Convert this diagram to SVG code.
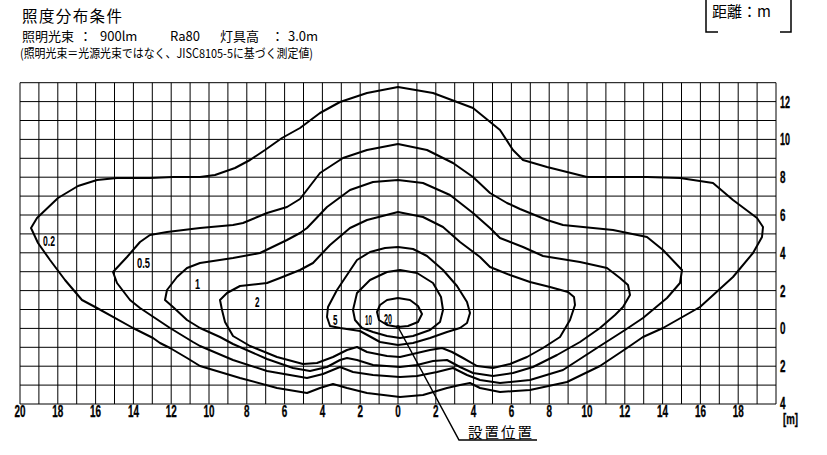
<svg xmlns="http://www.w3.org/2000/svg" width="827" height="455" viewBox="0 0 827 455">
<style>
.grid{stroke:#000;stroke-width:1;fill:none}
.contour{stroke:#000;stroke-width:2;fill:none;stroke-linejoin:round}
.ax{font-family:"Liberation Sans",Arial,sans-serif;font-weight:bold;font-size:17px;fill:#000;stroke:#000;stroke-width:0.35}
.axb{text-anchor:middle}
.cl{font-family:"Liberation Sans",Arial,sans-serif;font-weight:bold;font-size:15px;fill:#000}
.jp{font-family:"Noto Sans CJK JP","Noto Sans",sans-serif;fill:#000}
.ln{stroke:#000;stroke-width:1.5;fill:none}
</style>
<rect width="827" height="455" fill="#fff"/>
<g id="header">
<text class="jp" x="22" y="22" font-size="15.5" textLength="100" lengthAdjust="spacing">照度分布条件</text>
<text class="jp" font-size="13" y="40.5"><tspan x="22">照明光束</tspan><tspan x="79">：</tspan><tspan x="100">900lm</tspan><tspan x="170">Ra80</tspan><tspan x="220">灯具高</tspan><tspan x="271">：</tspan><tspan x="288">3.0m</tspan></text>
<text class="jp" x="20" y="58" font-size="12.5" textLength="293" lengthAdjust="spacingAndGlyphs">(照明光束＝光源光束ではなく、JISC8105-5に基づく測定値)</text>
</g>
<g id="unit-box">
<path class="ln" stroke-width="2" d="M706 0V32H718M791 0V32H780"/>
<text class="jp" x="712" y="17" font-size="15">距離：m</text>
</g>
<g id="grid">
<path class="grid" d="M20 82.7V404M38.9 82.7V404M57.8 82.7V404M76.7 82.7V404M95.6 82.7V404M114.5 82.7V404M133.4 82.7V404M152.3 82.7V404M171.2 82.7V404M190.1 82.7V404M209 82.7V404M227.9 82.7V404M246.8 82.7V404M265.7 82.7V404M284.6 82.7V404M303.5 82.7V404M322.4 82.7V404M341.3 82.7V404M360.2 82.7V404M379.1 82.7V404M398 82.7V404M416.9 82.7V404M435.8 82.7V404M454.7 82.7V404M473.6 82.7V404M492.5 82.7V404M511.4 82.7V404M530.3 82.7V404M549.2 82.7V404M568.1 82.7V404M587 82.7V404M605.9 82.7V404M624.8 82.7V404M643.7 82.7V404M662.6 82.7V404M681.5 82.7V404M700.4 82.7V404M719.3 82.7V404M738.2 82.7V404M757.1 82.7V404M776 82.7V404"/>
<path class="grid" d="M20 82.7H776M20 101.6H776M20 120.5H776M20 139.4H776M20 158.3H776M20 177.2H776M20 196.1H776M20 215H776M20 233.9H776M20 252.8H776M20 271.7H776M20 290.6H776M20 309.5H776M20 328.4H776M20 347.3H776M20 366.2H776M20 385.1H776M20 404H776"/>
</g>
<g id="x-axis-labels" class="ax axb">
<text x="20" y="417" textLength="11" lengthAdjust="spacingAndGlyphs">20</text>
<text x="57.8" y="417" textLength="11" lengthAdjust="spacingAndGlyphs">18</text>
<text x="95.6" y="417" textLength="11" lengthAdjust="spacingAndGlyphs">16</text>
<text x="133.4" y="417" textLength="11" lengthAdjust="spacingAndGlyphs">14</text>
<text x="171.2" y="417" textLength="11" lengthAdjust="spacingAndGlyphs">12</text>
<text x="209" y="417" textLength="11" lengthAdjust="spacingAndGlyphs">10</text>
<text x="246.8" y="417" textLength="5.5" lengthAdjust="spacingAndGlyphs">8</text>
<text x="284.6" y="417" textLength="5.5" lengthAdjust="spacingAndGlyphs">6</text>
<text x="322.4" y="417" textLength="5.5" lengthAdjust="spacingAndGlyphs">4</text>
<text x="360.2" y="417" textLength="5.5" lengthAdjust="spacingAndGlyphs">2</text>
<text x="398" y="417" textLength="5.5" lengthAdjust="spacingAndGlyphs">0</text>
<text x="435.8" y="417" textLength="5.5" lengthAdjust="spacingAndGlyphs">2</text>
<text x="473.6" y="417" textLength="5.5" lengthAdjust="spacingAndGlyphs">4</text>
<text x="511.4" y="417" textLength="5.5" lengthAdjust="spacingAndGlyphs">6</text>
<text x="549.2" y="417" textLength="5.5" lengthAdjust="spacingAndGlyphs">8</text>
<text x="587" y="417" textLength="11" lengthAdjust="spacingAndGlyphs">10</text>
<text x="624.8" y="417" textLength="11" lengthAdjust="spacingAndGlyphs">12</text>
<text x="662.6" y="417" textLength="11" lengthAdjust="spacingAndGlyphs">14</text>
<text x="700.4" y="417" textLength="11" lengthAdjust="spacingAndGlyphs">16</text>
<text x="738.2" y="417" textLength="11" lengthAdjust="spacingAndGlyphs">18</text>
</g>
<g id="y-axis-labels" class="ax">
<text x="780" y="107.5" textLength="10" lengthAdjust="spacingAndGlyphs">12</text>
<text x="780" y="145.3" textLength="10" lengthAdjust="spacingAndGlyphs">10</text>
<text x="780" y="183.1" textLength="5.5" lengthAdjust="spacingAndGlyphs">8</text>
<text x="780" y="220.9" textLength="5.5" lengthAdjust="spacingAndGlyphs">6</text>
<text x="780" y="258.7" textLength="5.5" lengthAdjust="spacingAndGlyphs">4</text>
<text x="780" y="296.5" textLength="5.5" lengthAdjust="spacingAndGlyphs">2</text>
<text x="780" y="334.3" textLength="5.5" lengthAdjust="spacingAndGlyphs">0</text>
<text x="780" y="372.1" textLength="5.5" lengthAdjust="spacingAndGlyphs">2</text>
<text x="780" y="408.5" textLength="5.5" lengthAdjust="spacingAndGlyphs">4</text>
<text x="783" y="424" font-size="14" textLength="15" lengthAdjust="spacingAndGlyphs">[m]</text>
</g>
<g id="contours" class="contour">
<path id="c02" d="M31,228 L38,243 L50,260 L65,280 L82,300 L97,308 L133,328 L143,333 L153,338 L160,343 L170,348 L187,358 L200,366 L240,378 L277,388 L307,393 L320,388 L333,384 L347,388 L367,393 L400,397 L423,395 L447,388 L460,385 L470,383 L480,388 L500,392 L530,390 L567,382 L600,366 L627,348 L643,337 L663,328 L700,307 L733,277 L753,253 L762,237 L763,227 L757,218 L733,200 L713,183 L680,178 L647,177 L587,177 L547,167 L523,160 L513,150 L500,130 L473,108 L433,93 L398,87 L367,93 L340,102 L320,113 L300,128 L282,138 L265,150 L250,160 L235,168 L215,175 L200,177 L173,177 L150,178 L117,178 L97,180 L78,186 L58,198 L37,218 Z"/>
<path id="c05" d="M113,272 L117,283 L130,300 L140,308 L170,328 L193,342 L200,346 L233,360 L267,371 L307,378 L323,374 L340,367 L353,372 L373,375 L400,377 L417,376 L437,372 L453,368 L467,375 L480,380 L500,383 L530,380 L563,370 L600,346 L625,330 L643,318 L667,298 L680,283 L682,270 L663,250 L647,237 L613,230 L563,225 L547,220 L520,209 L507,203 L490,193 L473,177 L453,163 L427,150 L398,144 L367,150 L343,158 L320,173 L300,199 L287,207 L267,213 L243,223 L233,225 L200,228 L167,232 L150,235 L140,242 L127,257 Z"/>
<path id="c1" d="M165,300 L173,307 L187,320 L200,328 L220,337 L233,344 L267,359 L293,368 L310,371 L327,367 L340,360 L347,358 L357,360 L373,365 L400,367 L417,365 L433,361 L447,360 L460,367 L473,373 L493,376 L513,373 L533,367 L557,355 L580,342 L600,328 L615,315 L623,307 L630,295 L628,285 L620,278 L607,268 L580,262 L543,256 L523,247 L500,238 L490,228 L473,213 L450,195 L423,183 L398,180 L373,182 L350,190 L327,207 L307,228 L300,233 L287,240 L260,253 L233,258 L200,263 L187,268 L177,277 L167,290 Z"/>
<path id="c2" d="M220,300 L222,310 L225,322 L233,336 L250,346 L277,357 L303,364 L317,363 L333,357 L347,350 L357,347 L367,352 L387,356 L400,357 L417,353 L430,350 L442,348 L452,352 L463,358 L477,366 L493,368 L510,364 L527,357 L543,348 L560,337 L570,320 L575,305 L574,297 L568,292 L550,287 L530,282 L510,275 L490,267 L480,257 L460,242 L443,227 L423,217 L398,212 L367,220 L350,228 L330,245 L313,263 L300,270 L280,278 L267,283 L240,286 L227,293 Z"/>
<path id="c5" d="M357,260 L370,252 L385,248 L398,247 L413,249 L427,256 L443,270 L457,286 L467,302 L470,313 L467,323 L460,328 L447,332 L430,338 L413,343 L398,345 L380,342 L360,331 L340,328 L330,326 L327,317 L328,307 L337,290 L347,275 Z"/>
<path id="c10" d="M353,310 L357,293 L370,280 L387,272 L400,270 L417,273 L433,283 L441,297 L443,310 L440,322 L430,330 L413,336 L400,338 L387,336 L373,332 L362,328 L355,320 Z"/>
<path id="c20" d="M377,312 L380,305 L387,300 L398,298 L410,300 L418,306 L422,314 L418,322 L408,326 L398,327 L387,325 L379,320 Z"/>
</g>
<g id="contour-labels" class="cl">
<text x="43" y="246" textLength="12" lengthAdjust="spacingAndGlyphs">0.2</text>
<text x="137" y="268" textLength="13" lengthAdjust="spacingAndGlyphs">0.5</text>
<text x="195" y="289" textLength="5" lengthAdjust="spacingAndGlyphs">1</text>
<text x="255" y="307" textLength="4.5" lengthAdjust="spacingAndGlyphs">2</text>
<text x="333" y="325" textLength="4.5" lengthAdjust="spacingAndGlyphs">5</text>
<text x="365" y="325" textLength="7" lengthAdjust="spacingAndGlyphs">10</text>
<text x="384" y="324" textLength="8" lengthAdjust="spacingAndGlyphs">20</text>
</g>
<g id="install-position">
<circle cx="398" cy="327" r="2" fill="#000"/>
<path class="ln" d="M398 327L459 440H537"/>
<text class="jp" x="468" y="437.5" font-size="14.5" textLength="64" lengthAdjust="spacing">設置位置</text>
</g>
</svg>
